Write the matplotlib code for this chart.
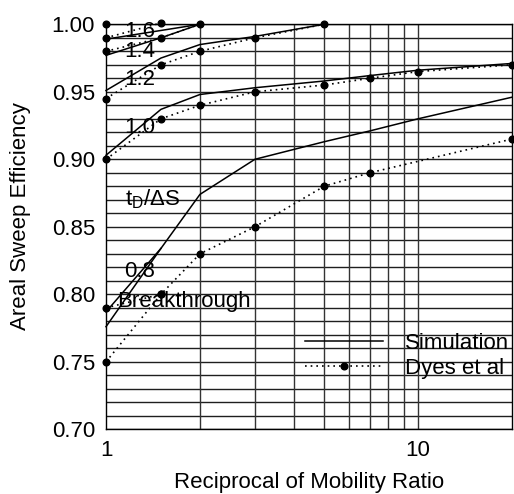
import numpy as np
import matplotlib
matplotlib.use("Agg")
import matplotlib.pyplot as plt
from matplotlib.ticker import NullLocator

plt.rcParams['font.family'] = ['Liberation Sans', 'DejaVu Sans']
plt.rcParams['mathtext.fontset'] = 'custom'
plt.rcParams['mathtext.rm'] = 'Liberation Sans'
plt.rcParams['mathtext.it'] = 'Liberation Sans:italic'

# ---- data ----
# Simulation (solid lines)
s16_x = [1, 2]
s16_y = [0.989, 1.000]
s14_x = [1, 1.5, 2]
s14_y = [0.977, 0.990, 1.000]
s12_x = [1, 1.5, 2, 3, 5]
s12_y = [0.951, 0.975, 0.985, 0.991, 1.000]
s10_x = [1, 1.5, 2, 3, 5, 7, 10, 20]
s10_y = [0.903, 0.937, 0.948, 0.953, 0.958, 0.962, 0.966, 0.971]
s08_x = [1, 1.5, 2, 3, 5, 7, 10, 20]
s08_y = [0.787, 0.834, 0.874, 0.900, 0.913, 0.921, 0.930, 0.946]
sbt_x = [1, 1.5]
sbt_y = [0.776, 0.834]

# Dyes et al (dotted lines with markers)
d18_x = [1]
d18_y = [1.000]
d16_x = [1, 1.5]
d16_y = [0.990, 1.001]
d14_x = [1, 1.5, 2]
d14_y = [0.980, 0.990, 1.000]
d12_x = [1, 1.5, 2, 3, 5]
d12_y = [0.945, 0.970, 0.980, 0.990, 1.000]
d10_x = [1, 1.5, 2, 3, 5, 7, 10, 20]
d10_y = [0.900, 0.930, 0.940, 0.950, 0.955, 0.960, 0.965, 0.970]
d08_x = [1, 1.5]
d08_y = [0.790, 0.800]
dbt_x = [1, 1.5, 2, 3, 5, 7, 20]
dbt_y = [0.750, 0.800, 0.830, 0.850, 0.880, 0.890, 0.915]

curve_labels = ["1.6", "1.4", "1.2", "1.0", "0.8"]
curve_label_y = [0.9906, 0.9758, 0.955, 0.9195, 0.813]

yticks = [0.70, 0.75, 0.80, 0.85, 0.90, 0.95, 1.00]
xticks = [1, 10]

W, H = 514, 494
fig = plt.figure(figsize=(W / 100, H / 100), dpi=100)
ax = fig.add_axes([106 / W, 1 - 429.3 / H, 406 / W, 405 / H])
ax.set_xscale('log')
ax.set_xlim(1, 20)
ax.set_ylim(0.70, 1.00)

# grid
for v in np.arange(0.70, 1.0001, 0.01):
    ax.axhline(v, color='#1e1e1e', lw=1.0, zorder=0)
for v in range(2, 11):
    ax.axvline(v, color='#333333', lw=1.0, zorder=0)

sim_kw = dict(color='black', lw=1.1, clip_on=False, zorder=3)
dyes_kw = dict(color='black', lw=1.2, ls=(0, (1, 2.4)), marker='o',
               ms=4.8, clip_on=False, zorder=3)

for xs, ys in [(s16_x, s16_y), (s14_x, s14_y), (s12_x, s12_y),
               (s10_x, s10_y), (sbt_x, sbt_y)]:
    ax.plot(xs, ys, **sim_kw)
sim_line, = ax.plot(s08_x, s08_y, **sim_kw)

for xs, ys in [(d18_x, d18_y), (d16_x, d16_y), (d14_x, d14_y),
               (d12_x, d12_y), (d10_x, d10_y), (d08_x, d08_y)]:
    ax.plot(xs, ys, **dyes_kw)
dyes_line, = ax.plot(dbt_x, dbt_y, **dyes_kw)

# curve labels
for lab, yv in zip(curve_labels, curve_label_y):
    ax.text(1.145, yv, lab, fontsize=16, ha='left', va='baseline', zorder=4)
ax.text(1.15, 0.8655, r'$\mathrm{t_D/\Delta S}$', fontsize=16,
        ha='left', va='baseline', zorder=4)
ax.text(1.085, 0.7906, 'Breakthrough', fontsize=16, ha='left',
        va='baseline', zorder=4)

# ticks
ax.set_xticks(xticks)
ax.set_xticklabels([str(t) for t in xticks])
ax.xaxis.set_minor_locator(NullLocator())
ax.set_yticks(yticks)
ax.set_yticklabels([f"{t:.2f}" for t in yticks])
ax.tick_params(axis='both', length=0, labelsize=16)
ax.tick_params(axis='x', pad=8)
ax.tick_params(axis='y', pad=8)

for sp in ax.spines.values():
    sp.set_color('black')
    sp.set_linewidth(1.0)

fig.text(309 / W, 1 - 488 / H, 'Reciprocal of Mobility Ratio', fontsize=16,
         ha='center', va='baseline')
fig.text(21 / W, 1 - 216 / H, 'Areal Sweep Efficiency', fontsize=16,
         rotation=90, ha='center', va='center')

leg = ax.legend([sim_line, dyes_line], ['Simulation', 'Dyes et al'],
                loc='upper left', bbox_to_anchor=(305 / W, 1 - 332.5 / H),
                bbox_transform=fig.transFigure, frameon=False,
                fontsize=16, handlelength=3.5, handletextpad=1.0,
                borderpad=0, borderaxespad=0, labelspacing=0.2, numpoints=1)

fig.savefig('out.png', dpi=100)
